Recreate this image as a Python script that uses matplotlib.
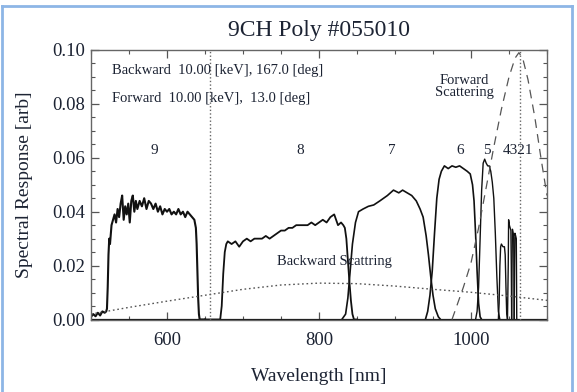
import matplotlib
matplotlib.use("Agg")
import matplotlib.pyplot as plt
from matplotlib.lines import Line2D
from matplotlib.ticker import MultipleLocator, FormatStrFormatter

# ---------------- data ----------------
ch9_wl = [500, 503, 506, 509, 512, 515, 518, 520, 521, 522, 523, 524, 525, 527, 529, 531, 533,
          535, 537, 539, 541, 543, 545, 547, 549, 551, 553, 555, 557, 559, 561, 564, 567, 570,
          573, 576, 579, 582, 585, 588, 591, 594, 597, 600, 603, 606, 609, 612, 615, 618, 621,
          624, 627, 630, 633, 636, 638, 639, 640, 641, 642, 643, 650]
ch9_val = [0.001, 0.002, 0.0012, 0.0025, 0.0015, 0.003, 0.0025, 0.003, 0.004, 0.012, 0.024,
           0.030, 0.028, 0.035, 0.037, 0.039, 0.036, 0.041, 0.038, 0.043, 0.046, 0.037, 0.042,
           0.039, 0.043, 0.036, 0.044, 0.046, 0.040, 0.044, 0.041, 0.044, 0.042, 0.045, 0.041,
           0.044, 0.043, 0.041, 0.043, 0.040, 0.042, 0.039, 0.041, 0.040, 0.041, 0.039, 0.040,
           0.039, 0.041, 0.039, 0.040, 0.038, 0.040, 0.039, 0.038, 0.037, 0.034, 0.028, 0.018,
           0.008, 0.002, 0.0, 0.0]

ch8_wl = [650, 670, 672, 674, 676, 678, 680, 685, 690, 695, 700, 705, 710, 715, 720, 725, 730,
          735, 740, 745, 750, 755, 760, 765, 770, 775, 780, 785, 790, 795, 800, 805, 810, 815,
          820, 825, 829, 832, 834, 836, 838, 840, 842, 844, 846, 850]
ch8_val = [0.0, 0.0, 0.005, 0.017, 0.025, 0.028, 0.029, 0.028, 0.029, 0.027, 0.029, 0.030, 0.029,
           0.030, 0.030, 0.030, 0.031, 0.030, 0.031, 0.032, 0.033, 0.033, 0.034, 0.034, 0.035,
           0.035, 0.035, 0.035, 0.036, 0.035, 0.036, 0.037, 0.036, 0.038, 0.039, 0.035, 0.036,
           0.035, 0.034, 0.030, 0.022, 0.014, 0.007, 0.002, 0.0, 0.0]

ch7_wl = [830, 835, 838, 841, 844, 848, 852, 858, 865, 872, 880, 890, 898, 905, 910, 916, 922,
          928, 933, 937, 941, 944, 947, 950, 953, 957, 960]
ch7_val = [0.0, 0.002, 0.008, 0.018, 0.028, 0.036, 0.040, 0.041, 0.042, 0.0425, 0.044, 0.046,
           0.048, 0.047, 0.048, 0.047, 0.046, 0.044, 0.041, 0.038, 0.031, 0.024, 0.016, 0.009,
           0.004, 0.001, 0.0]

ch6_wl = [940, 943, 946, 949, 952, 955, 958, 961, 965, 970, 975, 980, 985, 990, 995, 999, 1002,
          1004, 1006, 1008, 1010, 1012, 1014]
ch6_val = [0.0, 0.003, 0.009, 0.018, 0.032, 0.045, 0.052, 0.055, 0.057, 0.056, 0.057, 0.0565,
           0.057, 0.056, 0.055, 0.054, 0.050, 0.044, 0.032, 0.018, 0.006, 0.001, 0.0]

ch5_wl = [1006, 1008, 1010, 1012, 1014, 1016, 1018, 1020, 1022, 1024, 1026, 1028, 1030, 1032,
          1034, 1036, 1038]
ch5_val = [0.0, 0.003, 0.012, 0.030, 0.048, 0.058, 0.0595, 0.058, 0.057, 0.057, 0.055, 0.051,
           0.045, 0.032, 0.016, 0.003, 0.0]

ch4_wl = [1036, 1037, 1038, 1039, 1040, 1042, 1044, 1045, 1046, 1047, 1048]
ch4_val = [0.0, 0.006, 0.020, 0.027, 0.028, 0.027, 0.027, 0.024, 0.012, 0.002, 0.0]

ch3_wl = [1048, 1049, 1049.5, 1050.5, 1051.5, 1052.5, 1053, 1053.5]
ch3_val = [0.0, 0.020, 0.037, 0.035, 0.034, 0.033, 0.020, 0.0]

ch2_wl = [1053.5, 1054, 1054.5, 1055.5, 1056.2, 1056.8]
ch2_val = [0.0, 0.020, 0.0335, 0.032, 0.030, 0.0]

ch1_wl = [1056.8, 1057.3, 1057.8, 1058.8, 1059.6, 1060.2]
ch1_val = [0.0, 0.020, 0.032, 0.031, 0.030, 0.0]

fwd_wl = [975, 980, 990, 1000, 1010, 1020, 1030, 1040, 1050, 1058, 1063, 1068, 1075, 1084,
          1092, 1100]
fwd_val = [0.0, 0.004, 0.012, 0.021, 0.034, 0.049, 0.064, 0.078, 0.090, 0.097, 0.099, 0.097,
           0.089, 0.075, 0.060, 0.046]

bwd_wl = [500, 550, 600, 650, 700, 750, 800, 850, 900, 950, 1000, 1050, 1100]
bwd_val = [0.002, 0.0045, 0.0068, 0.009, 0.0112, 0.0128, 0.0135, 0.0133, 0.0124, 0.0112,
           0.0101, 0.0087, 0.0071]

scatter_lines = [656, 1064]
channel_labels = ["9", "8", "7", "6", "5", "4321"]
channel_label_x = [583, 775, 896, 986, 1021, 1062]

title = "9CH Poly #055010"
info_lines = ["Backward  10.00 [keV], 167.0 [deg]", "Forward  10.00 [keV],  13.0 [deg]"]

# ---------------- drawing ----------------
plt.rcParams['font.family'] = ['Liberation Serif', 'DejaVu Serif']
txt = '#1c2333'

fig = plt.figure(figsize=(5.77, 3.92), dpi=100)
ax = fig.add_axes([91/577, 1 - 319.5/392, (547 - 91)/577, (319.5 - 50)/392])

for wl, v, lw in [(ch9_wl, ch9_val, 1.5), (ch8_wl, ch8_val, 1.3), (ch7_wl, ch7_val, 1.2),
                  (ch6_wl, ch6_val, 1.2), (ch5_wl, ch5_val, 1.0), (ch4_wl, ch4_val, 1.0),
                  (ch3_wl, ch3_val, 1.0), (ch2_wl, ch2_val, 1.0), (ch1_wl, ch1_val, 1.0)]:
    ax.plot(wl, v, color='#111111', lw=lw)

ax.plot([500, 1100], [0, 0], color='#111111', lw=1.6)
ax.plot(fwd_wl, fwd_val, color='#555555', lw=0.9, dashes=(7, 5))
ax.plot(bwd_wl, bwd_val, color='#555555', lw=1.0, dashes=(1.2, 2.0))
for x in scatter_lines:
    ax.axvline(x, color='#666666', lw=1.0, dashes=(1.0, 1.6))

ax.set_xlim(500, 1100)
ax.set_ylim(0, 0.10)
ax.xaxis.set_major_locator(MultipleLocator(200))
ax.xaxis.set_minor_locator(MultipleLocator(50))
ax.yaxis.set_major_locator(MultipleLocator(0.02))
ax.yaxis.set_minor_locator(MultipleLocator(0.005))
ax.yaxis.set_major_formatter(FormatStrFormatter('%.2f'))
ax.tick_params(which='both', direction='in', top=True, right=True, color='#555555',
               labelsize=13.5, labelcolor=txt)
ax.tick_params(which='major', length=6, width=0.9)
ax.tick_params(axis='x', which='major', pad=9)
ax.tick_params(axis='y', which='major', pad=4)
ax.tick_params(which='minor', length=3, width=0.8)
for s in ax.spines.values():
    s.set_color('#666666')
    s.set_linewidth(1.0)

ax.set_title(title, fontsize=17, color=txt, pad=10)
ax.set_xlabel("Wavelength [nm]", fontsize=14, color=txt, labelpad=14)
ax.set_ylabel("Spectral Response [arb]", fontsize=14, color=txt, labelpad=14)

ax.text(528, 0.0925, info_lines[0], fontsize=10.5, color=txt, va='center', ha='left')
ax.text(528, 0.0819, info_lines[1], fontsize=10.5, color=txt, va='center', ha='left')
ax.text(991, 0.0865, "Forward\nScattering", fontsize=10.5, color=txt, va='center',
        ha='center', linespacing=0.9)
ax.text(820, 0.0216, "Backward Scattring", fontsize=10.5, color=txt, va='center', ha='center')
for lab, x in zip(channel_labels, channel_label_x):
    ax.text(x, 0.0627, lab, fontsize=11, color=txt, va='center', ha='center')

# light-blue frame around the picture
fc = '#8db6e6'
W, H = 577.0, 392.0
fig.add_artist(Line2D([1.5/W, 1.5/W], [0, 1 - 6/H], color=fc, lw=2, transform=fig.transFigure))
fig.add_artist(Line2D([1.5/W, 572/W], [1 - 6/H, 1 - 6/H], color=fc, lw=2, transform=fig.transFigure))
fig.add_artist(Line2D([572/W, 572/W], [0, 1 - 6/H], color=fc, lw=2, transform=fig.transFigure))

fig.savefig("out.png", dpi=100, facecolor='white')
